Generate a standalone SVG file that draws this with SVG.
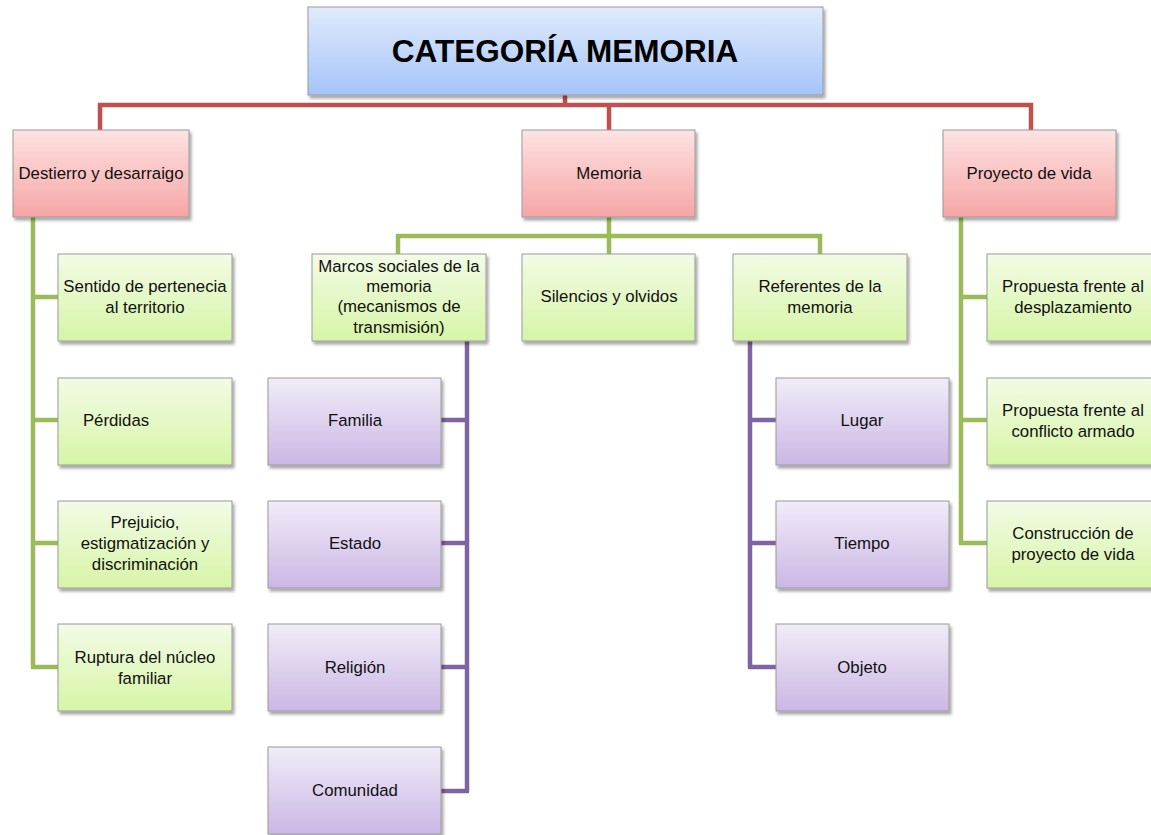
<svg xmlns="http://www.w3.org/2000/svg" width="1151" height="835" viewBox="0 0 1151 835">
<defs>
<linearGradient id="gBlue" x1="0" y1="0" x2="0" y2="1"><stop offset="0" stop-color="#e0ebfd"/><stop offset="1" stop-color="#a5c4f8"/></linearGradient>
<linearGradient id="gRed" x1="0" y1="0" x2="0" y2="1"><stop offset="0" stop-color="#fde3e3"/><stop offset="1" stop-color="#f6a5a5"/></linearGradient>
<linearGradient id="gGreen" x1="0" y1="0" x2="0" y2="1"><stop offset="0" stop-color="#f2fbe6"/><stop offset="1" stop-color="#d7f5a6"/></linearGradient>
<linearGradient id="gPurple" x1="0" y1="0" x2="0" y2="1"><stop offset="0" stop-color="#f1ecf8"/><stop offset="1" stop-color="#cbb7e5"/></linearGradient>
<filter id="sh" x="-10%" y="-10%" width="130%" height="140%"><feDropShadow dx="2" dy="3" stdDeviation="1.5" flood-color="#000" flood-opacity="0.35"/></filter>
</defs>
<style>
.box{stroke:#9a9a9a;stroke-width:1;filter:url(#sh)}
.b{fill:url(#gBlue)}.r{fill:url(#gRed)}.g{fill:url(#gGreen)}.p{fill:url(#gPurple)}
text{font-family:"Liberation Sans",Arial,sans-serif;font-size:16.8px;fill:#111;text-anchor:middle}
.title{font-size:31.5px;font-weight:bold;fill:#000}
.lr{fill:none;stroke:#c0504d;stroke-width:4.5}
.lg{fill:none;stroke:#9bbb59;stroke-width:4.5}
.lp{fill:none;stroke:#8064a2;stroke-width:4.5}
</style>
<rect width="1151" height="835" fill="#fff"/>
<g id="connectors">
<path class="lr" d="M565 95V105M100 130V105H1031V130M609 105V130"/>
<path class="lg" d="M33 217V668M31 297H58M31 420H58M31 543H58M31 667H58"/>
<path class="lg" d="M609 217V236M398 254V236H820V254M609 236V254"/>
<path class="lg" d="M961 217V544M959 297H987M959 420H987M959 543H987"/>
<path class="lp" d="M467 341V792M441 420H469M441 543H469M441 667H469M441 791H469"/>
<path class="lp" d="M750 341V668M748 420H776M748 543H776M748 667H776"/>
</g>
<g id="n-title"><rect class="box b" x="308" y="7" width="515" height="88"/><text class="title" x="565" y="62">CATEGORÍA MEMORIA</text></g>
<g id="n-destierro"><rect class="box r" x="13" y="130" width="176" height="87"/><text x="101" y="179">Destierro y desarraigo</text></g>
<g id="n-memoria"><rect class="box r" x="522" y="130" width="173" height="87"/><text x="609" y="179">Memoria</text></g>
<g id="n-proyecto"><rect class="box r" x="943" y="130" width="173" height="87"/><text x="1029" y="179">Proyecto de vida</text></g>
<g id="n-sentido"><rect class="box g" x="58" y="254" width="174" height="87"/><text x="145" y="292">Sentido de pertenecia</text><text x="145" y="313">al territorio</text></g>
<g id="n-perdidas"><rect class="box g" x="58" y="378" width="174" height="87"/><text x="116" y="426">Pérdidas</text></g>
<g id="n-prejuicio"><rect class="box g" x="58" y="501" width="174" height="87"/><text x="145" y="528">Prejuicio,</text><text x="145" y="549">estigmatización y</text><text x="145" y="570">discriminación</text></g>
<g id="n-ruptura"><rect class="box g" x="58" y="624" width="174" height="87"/><text x="145" y="663">Ruptura del núcleo</text><text x="145" y="684">familiar</text></g>
<g id="n-marcos"><rect class="box g" x="312" y="254" width="174" height="87"/><text x="399" y="272">Marcos sociales de la</text><text x="399" y="292">memoria</text><text x="399" y="312">(mecanismos de</text><text x="399" y="333">transmisión)</text></g>
<g id="n-silencios"><rect class="box g" x="522" y="254" width="173" height="87"/><text x="609" y="302">Silencios y olvidos</text></g>
<g id="n-referentes"><rect class="box g" x="733" y="254" width="174" height="87"/><text x="820" y="292">Referentes de la</text><text x="820" y="313">memoria</text></g>
<g id="n-familia"><rect class="box p" x="268" y="378" width="173" height="87"/><text x="355" y="426">Familia</text></g>
<g id="n-estado"><rect class="box p" x="268" y="501" width="173" height="87"/><text x="355" y="549">Estado</text></g>
<g id="n-religion"><rect class="box p" x="268" y="624" width="173" height="87"/><text x="355" y="673">Religión</text></g>
<g id="n-comunidad"><rect class="box p" x="268" y="747" width="173" height="87"/><text x="355" y="796">Comunidad</text></g>
<g id="n-lugar"><rect class="box p" x="776" y="378" width="173" height="87"/><text x="862" y="426">Lugar</text></g>
<g id="n-tiempo"><rect class="box p" x="776" y="501" width="173" height="87"/><text x="862" y="549">Tiempo</text></g>
<g id="n-objeto"><rect class="box p" x="776" y="624" width="173" height="87"/><text x="862" y="673">Objeto</text></g>
<g id="n-desplaz"><rect class="box g" x="987" y="254" width="174" height="87"/><text x="1073" y="292">Propuesta frente al</text><text x="1073" y="313">desplazamiento</text></g>
<g id="n-conflicto"><rect class="box g" x="987" y="378" width="174" height="87"/><text x="1073" y="416">Propuesta frente al</text><text x="1073" y="437">conflicto armado</text></g>
<g id="n-construccion"><rect class="box g" x="987" y="501" width="174" height="87"/><text x="1073" y="539">Construcción de</text><text x="1073" y="560">proyecto de vida</text></g>
</svg>
